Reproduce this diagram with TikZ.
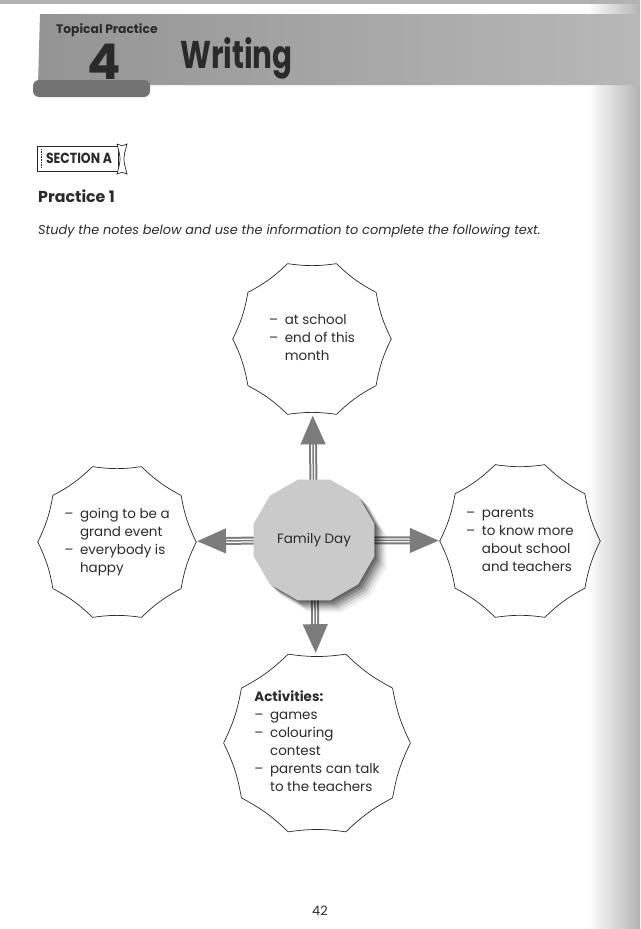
\documentclass[tikz,border=0pt]{standalone}
\usepackage{fontspec}
\usepackage{graphicx}
\setmainfont{Poppins}
\usetikzlibrary{arrows.meta,shapes.geometric,shadows,backgrounds}

\definecolor{ink}{HTML}{2A2A2A}
\definecolor{arrowgray}{HTML}{7C7C7C}
\definecolor{hubgray}{HTML}{CACACA}

\tikzset{
  note/.style={regular polygon, regular polygon sides=10, minimum size=47.4mm,
    inner sep=0pt, text=ink, font=\fontsize{11.5}{15.4}\selectfont},
  hub/.style={regular polygon, regular polygon sides=12, minimum size=37.5mm,
    fill=hubgray, text=ink, font=\fontsize{11.5}{14}\selectfont,
    drop shadow={shadow xshift=0.6mm, shadow yshift=-0.6mm, fill=black, opacity=0.22},
    drop shadow={shadow xshift=1.2mm, shadow yshift=-1.2mm, fill=black, opacity=0.2},
    drop shadow={shadow xshift=1.8mm, shadow yshift=-1.8mm, fill=black, opacity=0.16},
    drop shadow={shadow xshift=2.4mm, shadow yshift=-2.4mm, fill=black, opacity=0.12},
    drop shadow={shadow xshift=3mm, shadow yshift=-3mm, fill=black, opacity=0.08},
    drop shadow={shadow xshift=3.6mm, shadow yshift=-3.6mm, fill=black, opacity=0.05}},
  fatarrow/.style={draw=arrowgray, line width=2.4mm, -{Triangle[length=9mm,width=6.8mm]},
    postaction={draw=white, line width=1.2mm, shorten >=9.1mm, arrows=-},
    postaction={draw=arrowgray, line width=0.45mm, shorten >=9.1mm, arrows=-}},
  rim/.style={ink, line width=0.6pt}
}

\begin{document}
\begin{tikzpicture}[x=0.3mm, y=-0.3mm]
    \useasboundingbox (0,0) rectangle (640,929);
    % scan edges
    \shade[left color=white, right color=black!30] (588,0) rectangle (640,929);
    \fill[black!30] (0,0) rectangle (640,4);

    % heading band
    \shade[left color=black!42, right color=black!28] (40,14) -- (640,14) -- (640,85) -- (38,85) -- cycle;
    \fill[black!55, rounded corners=1.8mm] (33,80) rectangle (150,97);
    \node[anchor=west, text=ink, font=\bfseries\fontsize{10.5}{12}\selectfont] (topic) at (52,30) {Topical Practice};
    \node[text=ink, font=\bfseries\fontsize{42}{42}\selectfont] (num) at (104,62) {4};
    \node[anchor=west, text=ink, font=\bfseries\fontsize{33}{33}\selectfont] (title) at (176,58) {\scalebox{0.76}[1]{Writing}};

    % section label
    \draw[rim] (37,146) rectangle (118,171);
    \draw[ink, densely dotted] (41,149) -- (41,168);
    \draw[rim, fill=white] (117,144) .. controls (122,146) .. (127,144) .. controls (123,159) .. (127,174)
        .. controls (122,172) .. (117,174) .. controls (121,159) .. (117,144);
    \node[text=ink, font=\bfseries\fontsize{12.5}{14}\selectfont] (sect) at (79,158.5) {\scalebox{0.85}[1]{SECTION A}};
    \node[anchor=west, text=ink, font=\bfseries\fontsize{13.5}{16}\selectfont] (prac) at (34,196) {Practice 1};
    \node[anchor=west, text=ink, font=\itshape\fontsize{11}{13}\selectfont] (task) at (34,231)
        {Study the notes below and use the information to complete the following text.};

    % notes
    \node[note] (when) at (312,339) {\begin{tabular}{@{}l@{\hspace{2mm}}l@{}}
        -- & at school\\ -- & end of this\\ & month\end{tabular}};
    \node[note] (mood) at (117,542) {\begin{tabular}{@{}l@{\hspace{2mm}}l@{}}
        -- & going to be a\\ & grand event\\ -- & everybody is\\ & happy\end{tabular}};
    \node[note] (who) at (520,541) {\begin{tabular}{@{}l@{\hspace{2mm}}l@{}}
        -- & parents\\ -- & to know more\\ & about school\\ & and teachers\end{tabular}};
    \node[note] (acts) at (317,743) {\begin{tabular}{@{}l@{\hspace{2mm}}l@{}}
        \multicolumn{2}{@{}l@{}}{\bfseries Activities:}\\ -- & games\\ -- & colouring\\
        & contest\\ -- & parents can talk\\ & to the teachers\end{tabular}};
    \foreach \n in {when,mood,who,acts}{
        \foreach \i in {1,...,10}{
            \pgfmathtruncatemacro{\j}{mod(\i,10)+1}
            \draw[rim] (\n.corner \i) to[bend left=8] (\n.corner \j);
        }
    }

    \node[hub] (day) at (314,540) {Family Day};

    \begin{scope}[on background layer]
        \draw[fatarrow] (day.center) -- (when);
        \draw[fatarrow] (day.center) -- (mood);
        \draw[fatarrow] (day.center) -- (who);
        \draw[fatarrow] (day.center) -- (acts);
    \end{scope}

    \node[text=ink, font=\fontsize{11}{13}\selectfont] (page) at (320,911) {42};
\end{tikzpicture}
\end{document}
